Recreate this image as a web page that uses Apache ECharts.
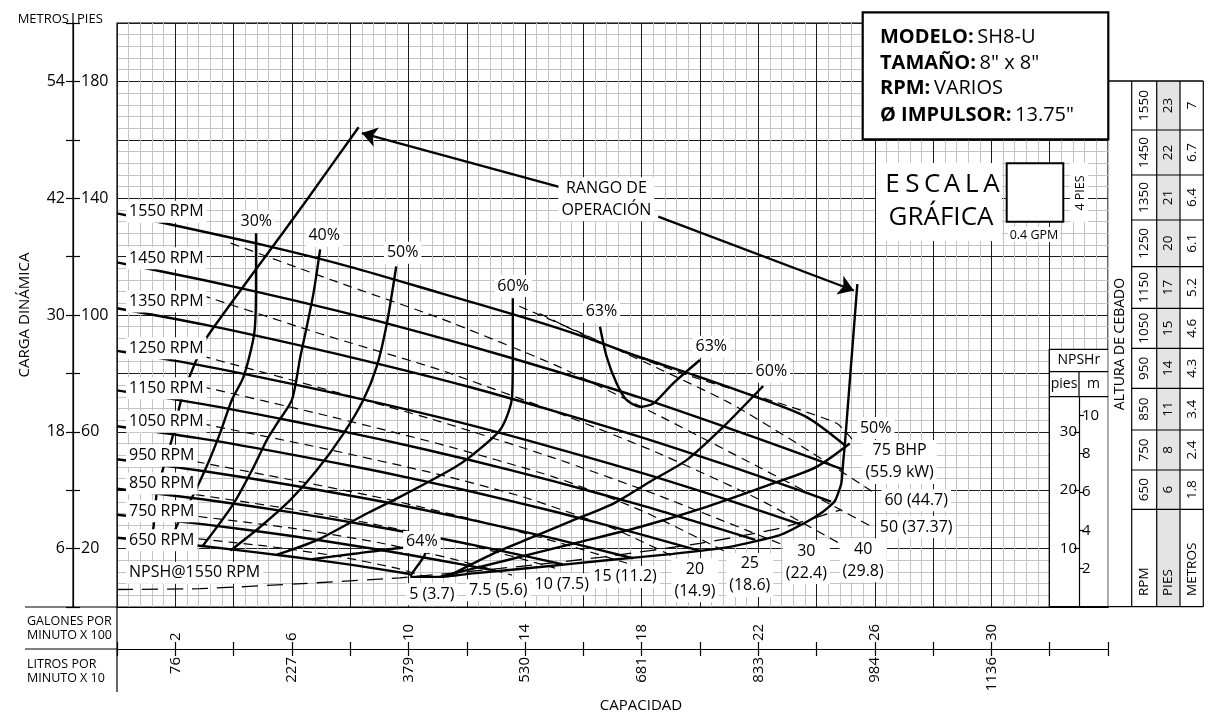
<!DOCTYPE html>
<html lang="es">
<head>
<meta charset="utf-8">
<title>SH8-U</title>
<script src="https://cdn.jsdelivr.net/npm/echarts@6.0.0/dist/echarts.min.js"></script>
<style>
html,body{margin:0;padding:0;background:#ffffff;}
#chart{width:1209px;height:715px;}
</style>
</head>
<body>
<div id="chart"></div>
<script>
// ---------- axis ticks / labels ----------
const gpmTicks = [2, 6, 10, 14, 18, 22, 26, 30];            // capacity, GPM x 100
const lpmLabels = ['76', '227', '379', '530', '681', '833', '984', '1136']; // L/min x 10
const feetTicks = [20, 60, 100, 140, 180];                    // head, ft
const metreLabels = ['6', '18', '30', '42', '54'];            // head, m
const npshFeetTicks = [10, 20, 30];
const npshMetreTicks = [2, 4, 6, 8, 10];

// ---------- head curves (x = GPM/100, y = ft) ----------
const rpmNames = ['1550 RPM','1450 RPM','1350 RPM','1250 RPM','1150 RPM','1050 RPM','950 RPM','850 RPM','750 RPM','650 RPM'];
const rpm1550 = [[0,134.8],[1.6,131.5],[5,124],[8,116.5],[11.1,107.5],[14,99],[16,92.6],[17.9,85.7],[19.8,79.4],[21.9,72],[23.65,65.1],[24.97,55.4]];
const rpm1450 = [[0,118.0],[3,111.9],[6,105.2],[9,97.8],[12,89.7],[15,80.9],[18,71.5],[21,61.2],[23,54.1],[24.9,47.1]];
const rpm1350 = [[0,102.3],[3,96.7],[6,90.2],[9,83.2],[12,75.6],[15,67.1],[18,58.1],[21,48.3],[23,41.4],[24.5,36.1]];
const rpm1250 = [[0,87.7],[3,82.5],[6,76.4],[9,69.8],[12,62.6],[15,54.5],[18,45.9],[21,36.5],[23.45,28.3]];
const rpm1150 = [[0,74.2],[3,69.4],[6,63.7],[9,57.5],[12,50.6],[15,43.0],[18,34.8],[20,28.8],[21.9,23.0]];
const rpm1050 = [[0,61.9],[3,57.5],[6,52.2],[9,46.4],[12,39.9],[15,32.7],[18,24.8],[20,19.2]];
const rpm950 = [[0,50.6],[3,46.5],[6,41.7],[9,36.3],[12,30.2],[15,23.4],[17.7,16.7]];
const rpm850 = [[0,40.5],[3,36.8],[6,32.4],[9,27.3],[12,21.7],[15.3,14.6]];
const rpm750 = [[0,31.6],[3,28.3],[6,24.3],[9,19.6],[11,16.1],[13,12.4]];
const rpm650 = [[0,23.7],[3,20.8],[6,17.2],[8,14.5],[10.06,11.3]];

// ---------- efficiency curves ----------
const eff30 = [[4.77,128],[4.77,110.9],[4.71,93.8],[4.34,78.8],[3.94,70.9],[3.53,59.4],[3.07,48],[2.6,38],[2.06,28],[1.85,22]];
const eff40 = [[6.97,122.5],[6.74,107.4],[6.51,96],[6.29,85.7],[6.0,70.9],[5.5,63],[5.14,57.2],[4.69,48],[4.0,35.4],[2.92,20.6]];
const eff50 = [[9.58,116.6],[9.26,97.2],[8.91,82.3],[8.45,70.9],[7.77,59.4],[6.86,46.9],[5.94,36.6],[4.91,27.4],[3.89,19.3]];
const eff60L = [[13.58,105.7],[13.58,84.6],[13.54,70.9],[13.14,60.6],[12.11,51.4],[11.43,46.9],[9.71,37.7],[8.57,32],[6.86,22.9],[5.49,17.9]];
const eff64 = [[6.69,16.4],[8.2,18.3],[9.7,20.2],[10.4,20.6],[10.57,18.3],[10.3,14],[10.06,10.6]];
const eff63 = [[16.57,96],[16.8,85.7],[17.14,76.6],[17.48,70.9],[17.94,68.6],[18.4,69.7],[19.08,76.6],[20.0,84.6]];
const eff60R = [[22.17,75.7],[20.8,61.7],[19.54,50.3],[18.3,43],[17.03,35.4],[15.6,29.5],[14.28,24],[12.91,18.3],[11.43,10.9]];
const eff50R = [[25.14,56],[24.0,48],[22.51,42.3],[20.23,34.3],[17.94,27.4],[15.65,21.7],[13.37,16],[11.08,10.3]];

// ---------- operating range limits ----------
const rangeLeft = [[8.29,164.3],[6.51,139.4],[5.76,129.1],[3.09,92.5],[2.51,79.4],[2.17,69.7],[1.89,57.7],[1.6,48],[1.37,39.8],[1.26,28],[1.2,23]];
const rangeRight = [[25.40,110.6],[24.97,55.4],[24.92,50.3],[24.85,42.3],[24.63,36.3],[24.22,32.6],[23.65,29.1],[22.74,24.6],[21.03,20.6],[19.07,18.2],[16.8,16.0],[14.51,13.7],[12.22,11.5],[11.08,10.3],[10.06,10.3]];

// ---------- brake horsepower lines (dashed) ----------
const bhp75 = [[14.5,100.5],[15.77,94.3],[17.49,86.9],[20,78],[22.5,70.5],[24.69,62.9],[25.3,56.5]];
const bhp60 = [[13.8,103],[16,93.5],[18.5,82],[21,70],[23.5,55],[26.0,39]];
const bhp50 = [[3.9,124.6],[7.5,111.5],[11.08,98.9],[15,83],[18.5,66],[22,48],[24.5,35],[25.93,27.3]];
const bhp40 = [[2.9,106.8],[7,93.5],[11.08,81.2],[15,67],[18.5,53],[22,37],[25.04,20.4]];
const bhp30 = [[2.9,86],[7,75],[11.08,63.5],[15,51],[18.5,38.5],[23.08,20.4]];
const bhp25 = [[2.9,75.5],[7,66],[11,56],[15,44.5],[18,33],[21.13,17.7]];
const bhp20 = [[2.9,62.8],[7,54.5],[11,45.5],[14,37.5],[17,27],[19.21,16.7]];
const bhp15 = [[2.7,49.8],[6,43.5],[9,37.5],[12,30.5],[15,22.5],[17.5,15]];
const bhp10 = [[2.7,38.5],[6,33.5],[9,28],[12,21.5],[15.03,13.3]];
const bhp7_5 = [[2.8,31],[6,27],[9,22],[11.5,16.5],[13.55,10.9]];
const bhp5 = [[2.8,23.3],[5,21],[7.5,17.5],[9.5,13.5],[10.6,10.4]];

// ---------- NPSH required at 1550 RPM (ft of NPSHr scale) ----------
const npsh1550 = [[0,3.0],[2.85,3.15],[5.94,3.9],[9.71,5.0],[13.14,6.6],[16.57,8.5],[20,10.9],[22.74,13.5],[24.8,16.6]];

// ---------- priming height table ----------
const primeRpm = [1550,1450,1350,1250,1150,1050,950,850,750,650];
const primeFeet = [23,22,21,20,17,15,14,11,8,6];
const primeMetres = ['7','6.7','6.4','6.1','5.2','4.6','4.3','3.4','2.4','1.8'];

// ---------- label texts ----------
const pctTexts = ['30%','40%','50%','60%','63%','63%','60%','50%','64%'];
const bhpTexts = ['75 BHP\n(55.9 kW)','60 (44.7)','50 (37.37)','40\n(29.8)','30\n(22.4)','25\n(18.6)','20\n(14.9)','15 (11.2)','10 (7.5)','7.5 (5.6)','5 (3.7)'];

// ================= rendering =================
const FONT = "'Open Sans', 'Liberation Sans', sans-serif";
const K = '#000';
const PI = Math.PI;

// label anchor points (data coordinates) — layout only
const rpmLabelAt = [135.4,119.4,104.6,88.6,74.9,63.4,51.8,42.3,32.8,22.9];
const pctLabelAt = [[4.78,132],[7.11,127.1],[9.8,121.3],[13.59,109.9],[16.62,101.1],[20.39,89.1],[22.45,80.6],[26.03,61.3],[10.46,22.3]];
const bhpLabelAt = [[26.85,49.7],[27.42,36.6],[27.42,27.4],[25.6,16],[23.65,15.4],[21.71,11.0],[19.83,9.15],[17.43,10.3],[15.26,7.8],[13.08,5.7],[10.8,4.4]];

function curve(data, extra) {
  return Object.assign({type:'line', data, symbol:'none', showSymbol:false, smooth:0.25,
    lineStyle:{color:K, width:2.4}, z:3, silent:true, animation:false}, extra || {});
}
function dashed(data, dash, w) {
  return curve(data, {smooth:0.2, lineStyle:{color:K, width:w || 1.2, type:dash || [9,6]}, z:2});
}
function textSeries(items, labelOpts) {
  return {type:'scatter', xAxisIndex:0, yAxisIndex:0, symbolSize:0.5, itemStyle:{color:'rgba(0,0,0,0)', opacity:1}, z:10, silent:true, animation:false,
    data: items.map(([t,x,y]) => ({value:[x,y], label:{formatter:t}})),
    label: Object.assign({show:true, position:'inside', color:K, opacity:1, textBorderWidth:0, fontSize:16, fontFamily:FONT,
      backgroundColor:'#fff', padding:[0,3], lineHeight:22, align:'center', verticalAlign:'middle'}, labelOpts || {}),
    labelLayout:{hideOverlap:false}};
}

const series = [];
[rpm1550,rpm1450,rpm1350,rpm1250,rpm1150,rpm1050,rpm950,rpm850,rpm750,rpm650].forEach(d => series.push(curve(d)));
[eff30,eff40,eff50,eff60L,eff64,eff63,eff60R,eff50R].forEach(d => series.push(curve(d)));
[rangeLeft, rangeRight].forEach(d => series.push(curve(d, {smooth:0.15})));
[bhp75,bhp60,bhp50,bhp40,bhp30,bhp25,bhp20,bhp15,bhp10,bhp7_5,bhp5].forEach(d => series.push(dashed(d)));
series.push(Object.assign(dashed(npsh1550, [16,9], 1.3), {yAxisIndex:3}));

// operating-range arrows
series.push({type:'lines', coordinateSystem:'cartesian2d', xAxisIndex:0, yAxisIndex:0, silent:true, animation:false, z:6,
  symbol:['none','arrow'], symbolSize:[0,15],
  lineStyle:{color:K, width:2.2, opacity:1, curveness:0},
  data:[{coords:[[15.2,143.8],[8.4,162.3]]},{coords:[[18.57,133.7],[25.28,108.4]]}]});

// labels
series.push(textSeries(rpmNames.map((t,i)=>[t,0.3,rpmLabelAt[i]]), {position:'right', distance:0, align:'left'}));
series.push(textSeries([['NPSH@1550 RPM',0.3,11.7]], {position:'right', distance:0, align:'left'}));
series.push(textSeries(pctTexts.map((t,i)=>[t,pctLabelAt[i][0],pctLabelAt[i][1]])));
series.push(textSeries([['RANGO DE\nOPERACIÓN',16.79,139.6]]));
series.push(textSeries(bhpTexts.map((t,i)=>[t,bhpLabelAt[i][0],bhpLabelAt[i][1]])));

// ---------- graphic (frame, boxes, table) ----------
const G = [];
function gline(x1,y1,x2,y2,w,z){ G.push({type:'line', shape:{x1,y1,x2,y2}, style:{stroke:K, lineWidth:w||1.2}, z:z||50, silent:true}); }
function grect(x,y,w,h,fill,stroke,lw,z){ G.push({type:'rect', shape:{x,y,width:w,height:h}, style:{fill:fill||'none', stroke:stroke||null, lineWidth:lw||0}, z:z||40, silent:true}); }
function gtext(x,y,text,o){
  o = o || {};
  G.push({type:'text', x, y, rotation:o.rot||0, z:o.z||60, silent:true,
    style:{text, fill:K, fontSize:o.size||14, fontFamily:FONT, fontWeight:o.weight||'normal',
      align:o.align||'center', verticalAlign:o.va||'middle', textAlign:o.align||'center', textVerticalAlign:o.va||'middle',
      rich:o.rich, lineHeight:o.lh}});
}

// left header + axis extension
gline(73,13,73,607,1.2,20);
gtext(69,19,'METROS',{size:13,align:'right'});
gtext(77,19,'PIES',{size:13,align:'left'});
gtext(25,315,'CARGA DINÁMICA',{size:15,rot:PI/2});
// bottom frame
gline(25,607,117,607,1.2);
gline(25,649,117,649,1.2);
gline(117,607,117,692,1.2);
gtext(27,628,'GALONES POR\nMINUTO X 100',{size:12.5,align:'left',lh:14});
gtext(27,671,'LITROS POR\nMINUTO X 10',{size:12.5,align:'left',lh:14});
gtext(641,706,'CAPACIDAD',{size:15});

// model box
grect(862.7,12.3,245.6,127,'#fff',K,2.2,70);
const rich = {b:{fontWeight:'bold',fontSize:20,fontFamily:FONT,fill:K,color:K}, r:{fontSize:20,fontFamily:FONT,fill:K,color:K}};
gtext(880,37,'{b|MODELO:} {r|SH8-U}',{align:'left',rich,z:72});
gtext(880,63,'{b|TAMAÑO:} {r|8" x 8"}',{align:'left',rich,z:72});
gtext(880,88,'{b|RPM:} {r|VARIOS}',{align:'left',rich,z:72});
gtext(880,115,'{b|Ø IMPULSOR:} {r|13.75"}',{align:'left',rich,z:72});

// escala gráfica
grect(876,163,126,78,'#fff',null,0,40);
['E','S','C','A','L','A'].forEach((c,i)=>gtext(892.5+i*19.8,185,c,{size:26}));
gtext(941,218,'GRÁFICA',{size:26});
grect(1006.7,163.3,56.6,58.4,'#fff',K,2,45);
grect(1070,163,18,59,'#fff',null,0,44);
gtext(1080,193,'4 PIES',{size:12.5,rot:PI/2});
grect(1008,227,52,15,'#fff',null,0,44);
gtext(1034,235,'0.4 GPM',{size:12.5});

// NPSHr box
grect(1049.3,349.3,59,257.4,'#fff',K,1.3,30);
gline(1049.3,371.7,1108.3,371.7,1.2,31);
gline(1049.3,396.7,1108.3,396.7,1.2,31);
gline(1079,371.7,1079,396.7,1.2,31);
gtext(1078.8,360.5,'NPSHr',{size:14});
gtext(1064,384,'pies',{size:14});
gtext(1093.5,384,'m',{size:14});

// priming height table
const cols = [1131.7,1156.7,1180,1203.3];
const rowsY = [81,130,175,220,266.7,308.3,348.3,388.3,430,470,509.3,606.7];
grect(1108.3,81,95,525.7,'#fff',null,0,35);
grect(1156.7,81,23.3,525.7,'#e4e4e4',null,0,36);
gline(1108.3,81,1203.3,81,1.3);
cols.forEach(x=>gline(x,81,x,606.7,1.2));
rowsY.slice(1,-1).forEach(y=>gline(1131.7,y,1203.3,y,1.2));
gline(1108.3,606.7,1203.3,606.7,1.3);
gtext(1120,344,'ALTURA DE CEBADO',{size:14,rot:PI/2});
primeRpm.forEach((r,i)=>{
  const yc = (rowsY[i]+rowsY[i+1])/2;
  gtext(1144.2,yc,String(r),{size:13.5,rot:PI/2});
  gtext(1168.3,yc,String(primeFeet[i]),{size:13.5,rot:PI/2});
  gtext(1191.7,yc,primeMetres[i],{size:13.5,rot:PI/2});
});
gtext(1144.2,596,'RPM',{size:13.5,rot:PI/2,align:'left'});
gtext(1168.3,596,'PIES',{size:13.5,rot:PI/2,align:'left'});
gtext(1191.7,596,'METROS',{size:13.5,rot:PI/2,align:'left'});

const labelFont = {color:K, fontFamily:FONT};
const option = {
  animation:false,
  backgroundColor:'#fff',
  grid:[
    {left:117, top:23, width:991, height:584, show:true, backgroundColor:'#fff', borderColor:K, borderWidth:1.2, containLabel:false, outerBoundsMode:'none'},
    {left:1079, top:396.7, width:29.3, height:210.3, show:false, containLabel:false, outerBoundsMode:'none'}
  ],
  xAxis:[
    {gridIndex:0, type:'value', min:0, max:34, interval:2, axisLine:{show:true, onZero:false, lineStyle:{color:K,width:1.2}}, axisTick:{show:false}, axisLabel:{show:false},
      splitLine:{show:true, lineStyle:{color:'#1c1c1c', width:1}}, minorTick:{show:false, splitNumber:5}, minorSplitLine:{show:true, lineStyle:{color:'#c4c4c4', width:1}}},
    {gridIndex:0, type:'value', min:0, max:34, interval:2, position:'bottom', offset:42, axisLine:{show:true, onZero:false, lineStyle:{color:K,width:1.2}},
      axisTick:{show:true, inside:true, length:7, lineStyle:{color:K,width:1.2}}, splitLine:{show:false},
      axisLabel:Object.assign({show:true, inside:true, rotate:90, margin:8, fontSize:15, customValues:gpmTicks, formatter:v=>String(v)}, labelFont)},
    {gridIndex:0, type:'value', min:0, max:34, interval:2, position:'bottom', offset:42, axisLine:{show:false, onZero:false},
      axisTick:{show:true, inside:false, length:7, lineStyle:{color:K,width:1.2}}, splitLine:{show:false},
      axisLabel:Object.assign({show:true, inside:false, rotate:90, margin:8, fontSize:15, customValues:gpmTicks, formatter:v=>lpmLabels[gpmTicks.indexOf(v)] || ''}, labelFont)},
    {gridIndex:1, type:'value', min:0, max:1, show:false}
  ],
  yAxis:[
    {gridIndex:0, type:'value', min:0, max:200, interval:20, axisLine:{show:false}, axisTick:{show:false}, axisLabel:{show:false},
      splitLine:{show:true, lineStyle:{color:'#1c1c1c', width:1}}, minorTick:{show:false, splitNumber:5}, minorSplitLine:{show:true, lineStyle:{color:'#c4c4c4', width:1}}},
    {gridIndex:0, type:'value', min:0, max:200, interval:20, position:'left', offset:44, axisLine:{show:true, onZero:false, lineStyle:{color:K,width:1.2}},
      axisTick:{show:true, inside:true, length:7, lineStyle:{color:K,width:1.2}}, splitLine:{show:false},
      axisLabel:Object.assign({show:true, inside:true, margin:8, fontSize:16, customValues:feetTicks, formatter:v=>String(v)}, labelFont)},
    {gridIndex:0, type:'value', min:0, max:200, interval:20, position:'left', offset:44, axisLine:{show:false, onZero:false},
      axisTick:{show:true, inside:false, length:7, lineStyle:{color:K,width:1.2}}, splitLine:{show:false},
      axisLabel:Object.assign({show:true, inside:false, margin:8, fontSize:16, customValues:feetTicks, formatter:v=>metreLabels[feetTicks.indexOf(v)] || ''}, labelFont)},
    {gridIndex:0, type:'value', min:0, max:100, show:false},
    {gridIndex:1, type:'value', min:0, max:36, position:'left', z:40, axisLine:{show:true, onZero:false, lineStyle:{color:K,width:1.2}},
      axisTick:{show:true, inside:false, length:5, customValues:npshFeetTicks, lineStyle:{color:K,width:1.2}}, splitLine:{show:false},
      axisLabel:Object.assign({show:true, inside:false, margin:2, fontSize:15, customValues:npshFeetTicks, formatter:v=>String(v)}, labelFont)},
    {gridIndex:1, type:'value', min:0, max:36*0.3048, position:'left', z:40, axisLine:{show:false, onZero:false},
      axisTick:{show:true, inside:true, length:5, customValues:npshMetreTicks, lineStyle:{color:K,width:1.2}}, splitLine:{show:false},
      axisLabel:Object.assign({show:true, inside:true, margin:3, fontSize:15, customValues:npshMetreTicks, formatter:v=>String(v)}, labelFont)}
  ],
  series,
  graphic:{elements:G}
};
const chart = echarts.init(document.getElementById('chart'));
chart.setOption(option);
</script>
</body>
</html>
